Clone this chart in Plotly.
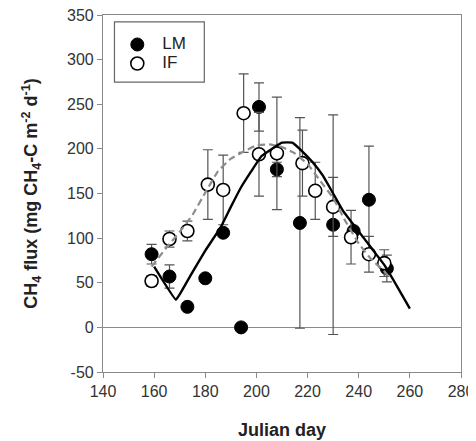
import plotly.graph_objects as go

# ---- data ----
lm_day = [159, 166, 173, 180, 187, 194, 201, 208, 217, 230, 238, 244, 251]
lm_flux = [82, 57, 23, 55, 106, 0, 247, 177, 117, 115, 108, 143, 66]
lm_err = [11, 13, 4, 4, 4, 4, 27, 8, 118, 123, 4, 60, 15]

if_day = [159, 166, 173, 181, 187, 195, 201, 208, 218, 223, 230, 237, 244, 250]
if_flux = [52, 99, 108, 160, 154, 240, 194, 195, 184, 153, 135, 101, 82, 72]
if_err = [6, 9, 11, 39, 39, 44, 47, 63, 37, 32, 33, 30, 20, 15]

lm_fit_day = [160, 168.5, 170, 175, 180, 186, 190, 194, 198, 202, 206, 210, 214,
              218, 222, 226, 230, 234, 238, 242, 246, 250, 255, 260]
lm_fit_flux = [68, 31, 37, 62, 86, 112, 135, 157, 175, 192, 200, 207, 207,
               197, 185, 170, 150, 130, 115, 100, 85, 70, 46, 21]

if_fit_day = [159, 165, 170, 175, 180, 185, 190, 195, 200, 205, 210, 215, 220,
              225, 230, 235, 240, 245, 250, 252]
if_fit_flux = [68, 90, 107, 126, 151, 175, 189, 197, 204, 205, 202, 195, 183,
               164, 145, 118, 94, 76, 63, 56]

x_ticks = [140, 160, 180, 200, 220, 240, 260, 280]
x_labels = ["140", "160", "180", "200", "220", "240", "260", "280"]
y_ticks = [-50, 0, 50, 100, 150, 200, 250, 300, 350]
y_labels = ["-50", "0", "50", "100", "150", "200", "250", "300", "350"]

FONT = "Liberation Sans, Arial, sans-serif"
AXIS_GREY = "#8a8a8a"
ERR_GREY = "#555555"

fig = go.Figure()

fig.add_trace(go.Scatter(
    x=lm_day, y=lm_flux, mode="markers",
    name="<span style='font-size:17px'>LM</span>",
    marker=dict(symbol="circle", size=13, color="black", line=dict(color="black", width=1)),
    error_y=dict(type="data", array=lm_err, color=ERR_GREY, thickness=1.2, width=5),
))
fig.add_trace(go.Scatter(
    x=if_day, y=if_flux, mode="markers",
    name="<span style='font-size:17px'>IF</span>",
    marker=dict(symbol="circle", size=13, color="white", line=dict(color="black", width=1.6)),
    error_y=dict(type="data", array=if_err, color=ERR_GREY, thickness=1.2, width=5),
))
fig.add_trace(go.Scatter(
    x=if_fit_day, y=if_fit_flux, mode="lines", showlegend=False,
    line=dict(color="#8c8c8c", width=2.2, dash="7px,4px", shape="spline", smoothing=0.3),
))
fig.add_trace(go.Scatter(
    x=lm_fit_day, y=lm_fit_flux, mode="lines", showlegend=False,
    line=dict(color="black", width=2.4, shape="spline", smoothing=0.3),
))

axis_common = dict(
    showline=True, linecolor=AXIS_GREY, linewidth=1.2, mirror=True,
    ticks="outside", ticklen=5, tickcolor=AXIS_GREY, tickwidth=1,
    showgrid=False, automargin=False, ticklabeloverflow="allow",
    tickfont=dict(family=FONT, size=16, color="#333333"),
)

fig.update_layout(
    width=468, height=433,
    margin=dict(l=95, r=15, t=7, b=69),
    paper_bgcolor="white", plot_bgcolor="white",
    font=dict(family=FONT, color="#222222"),
    xaxis=dict(
        range=[140, 280], tickvals=x_ticks, ticktext=x_labels, zeroline=False,
        title=dict(text="<b>Julian day</b>", font=dict(family=FONT, size=18, color="#222222"),
                   standoff=24),
        **axis_common,
    ),
    yaxis=dict(
        range=[-50, 350], tickvals=y_ticks, ticktext=y_labels,
        zeroline=True, zerolinecolor=AXIS_GREY, zerolinewidth=1.2,
        title=dict(text="<b>CH<sub>4</sub> flux (mg CH<sub>4</sub>-C m<sup>-2</sup> d<sup>-1</sup>)</b>",
                   font=dict(family=FONT, size=18, color="#222222"), standoff=24),
        **axis_common,
    ),
    legend=dict(
        x=0.026, y=0.958, xanchor="left", yanchor="top",
        bgcolor="rgba(0,0,0,0)", borderwidth=0,
        font=dict(family=FONT, size=12, color="#222222"),
        tracegroupgap=0, itemwidth=40,
    ),
    shapes=[dict(type="rect", xref="paper", yref="paper",
                 x0=0.032, x1=0.283, y0=0.812, y1=0.981,
                 line=dict(color="#666666", width=1.2))],
)

fig.write_html("out.html")
